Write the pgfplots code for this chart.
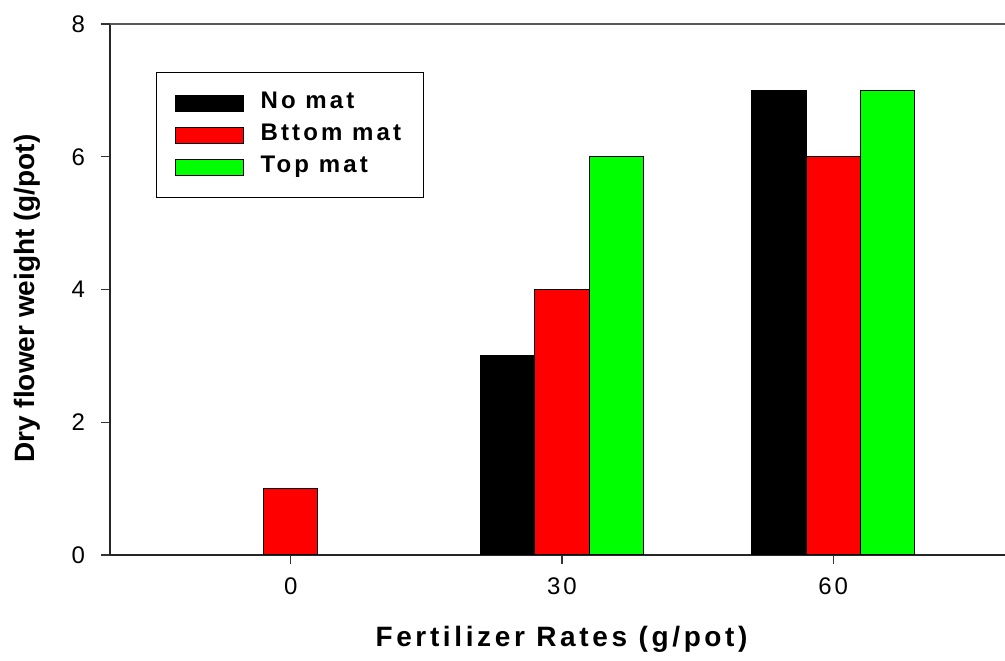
\documentclass[border=0pt]{standalone}
\usepackage{fontspec}
\setmainfont{Liberation Sans}
\newfontfamily\ticksfont[LetterSpace=12]{Liberation Sans}
\newfontfamily\xlabfont[LetterSpace=13]{Liberation Sans}
\newfontfamily\legfont[LetterSpace=13]{Liberation Sans}
\usepackage{pgfplots}
\pgfplotsset{compat=1.18}

\begin{document}
\begin{tikzpicture}
\begin{axis}[
  scale only axis, width=447.5pt, height=265.5pt,
  xmin=-20, xmax=79, ymin=0, ymax=8,
  ybar=0pt, bar width=6,
  axis x line*=bottom, axis y line*=left,
  axis line style={-, line width=0.8pt, black!85},
  tick align=outside, major tick length=4.5pt,
  tick style={line width=0.6pt, black!80},
  minor tick num=0,
  xtick={0,30,60}, ytick={0,2,4,6,8},
  /pgf/number format/assume math mode=true,
  ticklabel style={font=\ticksfont\fontsize{12}{14}\selectfont},
  xticklabel style={yshift=-3.5pt},
  yticklabel style={xshift=-4.5pt},
  xlabel={Fertilizer Rates (g/pot)},
  ylabel={Dry flower weight (g/pot)},
  xlabel style={font=\xlabfont\bfseries\fontsize{14}{16}\selectfont,
    at={(rel axis cs:0.5045,-0.158)}, anchor=center},
  ylabel style={font=\bfseries\fontsize{14}{16}\selectfont,
    at={(rel axis cs:-0.0927,0.483)}, anchor=center},
  legend style={at={(rel axis cs:0.0514,0.9096)}, anchor=north west,
    draw=black, line width=0.6pt, inner xsep=9pt, inner ysep=10pt,
    row sep=5.5pt, column sep=6.5pt,
    font=\legfont\bfseries\fontsize{12}{14}\selectfont,
    nodes={text height=8pt, text depth=2.5pt, inner ysep=0pt}},
  legend cell align=left,
  every axis plot post/.append style={
    legend image code/.code={\draw[##1, line width=0.5pt] (0pt,-4pt) rectangle (34pt,4pt);}},
]
\addplot[fill=black, draw=black, line width=0.5pt] coordinates {(30,3) (60,7)};
\addplot[fill=red, draw=black, line width=0.5pt] coordinates {(0,1) (30,4) (60,6)};
\addplot[fill=green, draw=black, line width=0.5pt] coordinates {(30,6) (60,7)};
\legend{No mat, Bttom mat, Top mat}
\draw[black!65, line width=0.8pt] (rel axis cs:0,1) -- (rel axis cs:1,1);
\coordinate (bl) at (rel axis cs:0,0);
\coordinate (tr) at (rel axis cs:1,1);
\end{axis}
\pgfresetboundingbox
\path[use as bounding box] ([xshift=-55pt,yshift=-52.5pt]bl) rectangle ([yshift=12pt]tr);
\end{tikzpicture}
\end{document}
